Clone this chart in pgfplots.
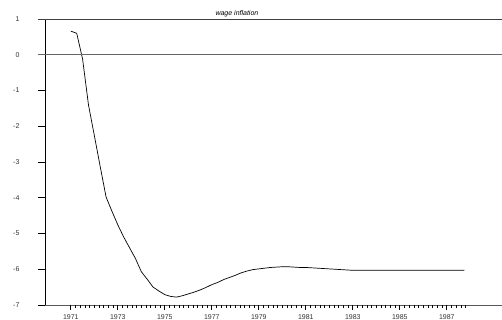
\documentclass[border=0pt]{standalone}
\usepackage{fontspec}
\setmainfont{Liberation Sans}
\usepackage{pgfplots}
\pgfplotsset{compat=1.18}
\begin{document}
\begin{tikzpicture}
\begin{axis}[
  name=ax,
  scale only axis,
  width=457pt, height=286pt,
  xmin=-0.1, xmax=19.35,
  ymin=-7, ymax=1,
  axis lines=left,
  axis line style={-, line width=0.8pt},
  x axis line style={black!65},
  y axis line style={black},
  clip=false,
  xtick={1,3,5,7,9,11,13,15,17},
  xticklabels={1971,1973,1975,1977,1979,1981,1983,1985,1987},
  ytick={-7,-6,-5,-4,-3,-2,-1,0,1},
  xtick align=outside, ytick align=outside,
  xtick pos=left, ytick pos=left,
  major tick length=5pt,
  major tick style={black, line width=0.7pt},
  xticklabel style={font=\fontsize{7}{8}\selectfont, color=black!80, yshift=-1pt},
  yticklabel style={font=\fontsize{7}{8}\selectfont, color=black!80, xshift=-17pt},
  /pgf/number format/assume math mode=true,
  title={\itshape wage inflation},
  title style={font=\fontsize{7}{8}\selectfont, at={(rel axis cs:0.42,1)}, anchor=south, yshift=-7pt},
]
\addplot[black, line width=0.7pt] coordinates {
(1.00,0.66) (1.25,0.60) (1.50,-0.12) (1.75,-1.40)
(2.00,-2.26) (2.25,-3.13) (2.50,-3.98) (2.75,-4.38)
(3.00,-4.76) (3.25,-5.10) (3.50,-5.40) (3.75,-5.70)
(4.00,-6.07) (4.25,-6.28) (4.50,-6.50) (4.75,-6.61)
(5.00,-6.71) (5.25,-6.76) (5.50,-6.78) (5.75,-6.74)
(6.00,-6.69) (6.25,-6.64) (6.50,-6.58) (6.75,-6.51)
(7.00,-6.43) (7.25,-6.37) (7.50,-6.29) (7.75,-6.23)
(8.00,-6.17) (8.25,-6.10) (8.50,-6.05) (8.75,-6.01)
(9.00,-5.99) (9.25,-5.97) (9.50,-5.95) (9.75,-5.94)
(10.00,-5.93) (10.25,-5.93) (10.50,-5.94) (10.75,-5.95)
(11.00,-5.95) (11.25,-5.96) (11.50,-5.97) (11.75,-5.98)
(12.00,-5.99) (12.25,-6.00) (12.50,-6.01) (12.75,-6.02)
(13.00,-6.03) (13.25,-6.03) (13.50,-6.03) (13.75,-6.03)
(14.00,-6.03) (14.25,-6.03) (14.50,-6.03) (14.75,-6.03)
(15.00,-6.03) (15.25,-6.03) (15.50,-6.03) (15.75,-6.03)
(16.00,-6.03) (16.25,-6.03) (16.50,-6.03) (16.75,-6.03)
(17.00,-6.03) (17.25,-6.03) (17.50,-6.03) (17.75,-6.03)
};
\pgfplotsinvokeforeach{1,3,5,7,9,11,13,15,17}{
  \draw[black, line width=0.7pt] (axis cs:#1,-7) -- ([yshift=-5pt]axis cs:#1,-7);
}
\pgfplotsinvokeforeach{1.2,1.4,1.6,1.8,2,2.2,2.4,2.6,2.8,
    3.2,3.4,3.6,3.8,4,4.2,4.4,4.6,4.8,
    5.2,5.4,5.6,5.8,6,6.2,6.4,6.6,6.8,
    7.2,7.4,7.6,7.8,8,8.2,8.4,8.6,8.8,
    9.2,9.4,9.6,9.8,10,10.2,10.4,10.6,10.8,
    11.2,11.4,11.6,11.8,12,12.2,12.4,12.6,12.8,
    13.2,13.4,13.6,13.8,14,14.2,14.4,14.6,14.8,
    15.2,15.4,15.6,15.8,16,16.2,16.4,16.6,16.8,
    17.2,17.4,17.6,17.8}{
  \draw[black, line width=0.6pt] (axis cs:#1,-7) -- ([yshift=-3pt]axis cs:#1,-7);
}
\pgfplotsinvokeforeach{-7,-6,-5,-4,-3,-2,-1}{
  \draw[black, line width=0.8pt] (axis cs:-0.1,#1) -- ([xshift=-7pt]axis cs:-0.1,#1);
}
\draw[black!75, line width=0.8pt] ([xshift=-7pt]rel axis cs:0,1) -- (rel axis cs:1,1);
\draw[black!60, line width=0.8pt] ([xshift=-7pt]rel axis cs:0,0.875) -- (rel axis cs:1,0.875);
\end{axis}
\pgfresetboundingbox
\path (ax.south west) ++(-45pt,-15pt) rectangle ++(502pt,320pt);
\end{tikzpicture}
\end{document}
